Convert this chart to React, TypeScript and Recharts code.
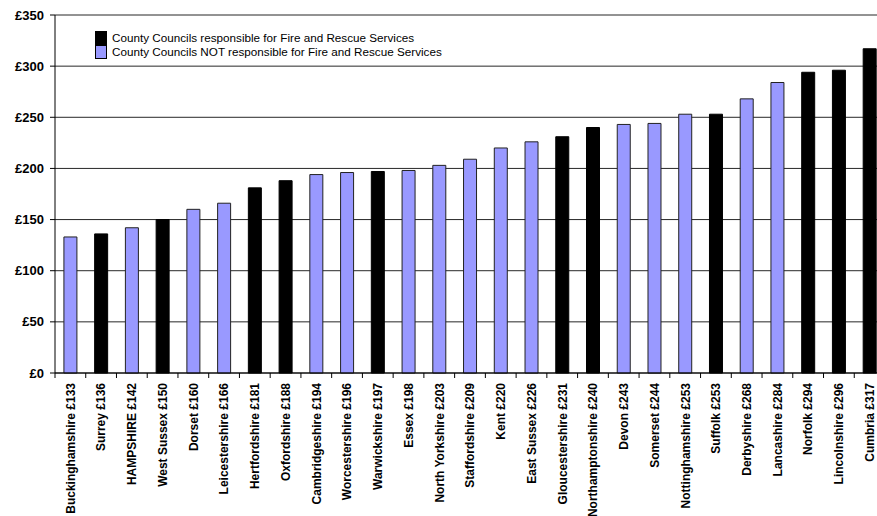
import React from "react";
import { BarChart, Bar, XAxis, YAxis, CartesianGrid, Legend } from "recharts";

const councils = [
  "Buckinghamshire", "Surrey", "HAMPSHIRE", "West Sussex", "Dorset", "Leicestershire",
  "Hertfordshire", "Oxfordshire", "Cambridgeshire", "Worcestershire", "Warwickshire",
  "Essex", "North Yorkshire", "Staffordshire", "Kent", "East Sussex", "Gloucestershire",
  "Northamptonshire", "Devon", "Somerset", "Nottinghamshire", "Suffolk", "Derbyshire",
  "Lancashire", "Norfolk", "Lincolnshire", "Cumbria",
];
const costs = [
  133, 136, 142, 150, 160, 166, 181, 188, 194, 196, 197, 198, 203, 209, 220, 226, 231,
  240, 243, 244, 253, 253, 268, 284, 294, 296, 317,
];
// true = county council responsible for fire and rescue
const fireResponsible = [
  false, true, false, true, false, false, true, true, false, false, true, false, false,
  false, false, false, true, true, false, false, false, true, false, false, true, true, true,
];
const yTicks = [0, 50, 100, 150, 200, 250, 300, 350];

const SERIES_FIRE = "County Councils responsible for Fire and Rescue Services";
const SERIES_NOFIRE = "County Councils NOT responsible for Fire and Rescue Services";
const seriesOrder = [SERIES_FIRE, SERIES_NOFIRE];

const CHART_W = 885;
const Y_AXIS_W = 55;
const BAND = (CHART_W - Y_AXIS_W) / councils.length;

const data = councils.map((name, i) => ({
  label: `${name} £${costs[i]}`,
  fire: fireResponsible[i] ? costs[i] : null,
  nofire: fireResponsible[i] ? null : costs[i],
}));

function CategoryTick(props: any) {
  const { x, y, payload } = props;
  const left = x - BAND / 2;
  return (
    <g>
      <line x1={left} y1={y} x2={left} y2={y + 5} stroke="#000" />
      <text
        x={0}
        y={0}
        transform={`translate(${x},${y + 10}) rotate(-90)`}
        textAnchor="end"
        dy="0.36em"
        fontSize={12}
        fontWeight="bold"
        fill="#000"
      >
        {payload.value}
      </text>
    </g>
  );
}

function LegendBox(props: any) {
  const items = [...(props.payload || [])].sort(
    (a: any, b: any) => seriesOrder.indexOf(a.value) - seriesOrder.indexOf(b.value)
  );
  return (
    <div style={{ fontSize: 11.7, color: "#000", lineHeight: "14px", textAlign: "left" }}>
      {items.map((it: any) => (
        <div key={it.value} style={{ display: "flex", alignItems: "center", height: 14 }}>
          <span
            style={{
              display: "inline-block",
              width: 10,
              height: 12,
              background: it.color,
              border: "1px solid #000",
              marginRight: 5,
            }}
          />
          <span>{it.value}</span>
        </div>
      ))}
    </div>
  );
}

export default function App() {
  return (
    <div
      style={{
        position: "fixed",
        left: 0,
        top: 0,
        width: 877,
        height: 516,
        overflow: "hidden",
        background: "#fff",
        fontFamily: "'Liberation Sans', Arial, sans-serif",
      }}
    >
      <BarChart
        width={CHART_W}
        height={516}
        data={data}
        margin={{ top: 15, right: 0, left: 0, bottom: 0 }}
        barCategoryGap="29%"
      >
        <CartesianGrid vertical={false} stroke="#000" strokeOpacity={0.85} />
        <XAxis
          dataKey="label"
          interval={0}
          height={143}
          tickSize={0}
          tickMargin={0}
          tickLine={false}
          axisLine={{ stroke: "#000" }}
          tick={<CategoryTick />}
        />
        <YAxis
          width={Y_AXIS_W}
          domain={[0, 350]}
          ticks={yTicks}
          tickSize={5}
          tickMargin={6}
          axisLine={{ stroke: "#000" }}
          tickLine={{ stroke: "#000" }}
          tick={{ fontSize: 13, fontWeight: "bold", fill: "#000" }}
          tickFormatter={(v) => `£${v}`}
        />
        <Legend
          layout="vertical"
          align="center"
          verticalAlign="middle"
          content={<LegendBox />}
          wrapperStyle={{ position: "absolute", left: 95, top: 31, width: 420 }}
        />
        <Bar
          dataKey="fire"
          name={SERIES_FIRE}
          stackId="c"
          fill="#000000"
          stroke="#000"
          isAnimationActive={false}
        />
        <Bar
          dataKey="nofire"
          name={SERIES_NOFIRE}
          stackId="c"
          fill="#9999FF"
          stroke="#222"
          isAnimationActive={false}
        />
      </BarChart>
    </div>
  );
}
